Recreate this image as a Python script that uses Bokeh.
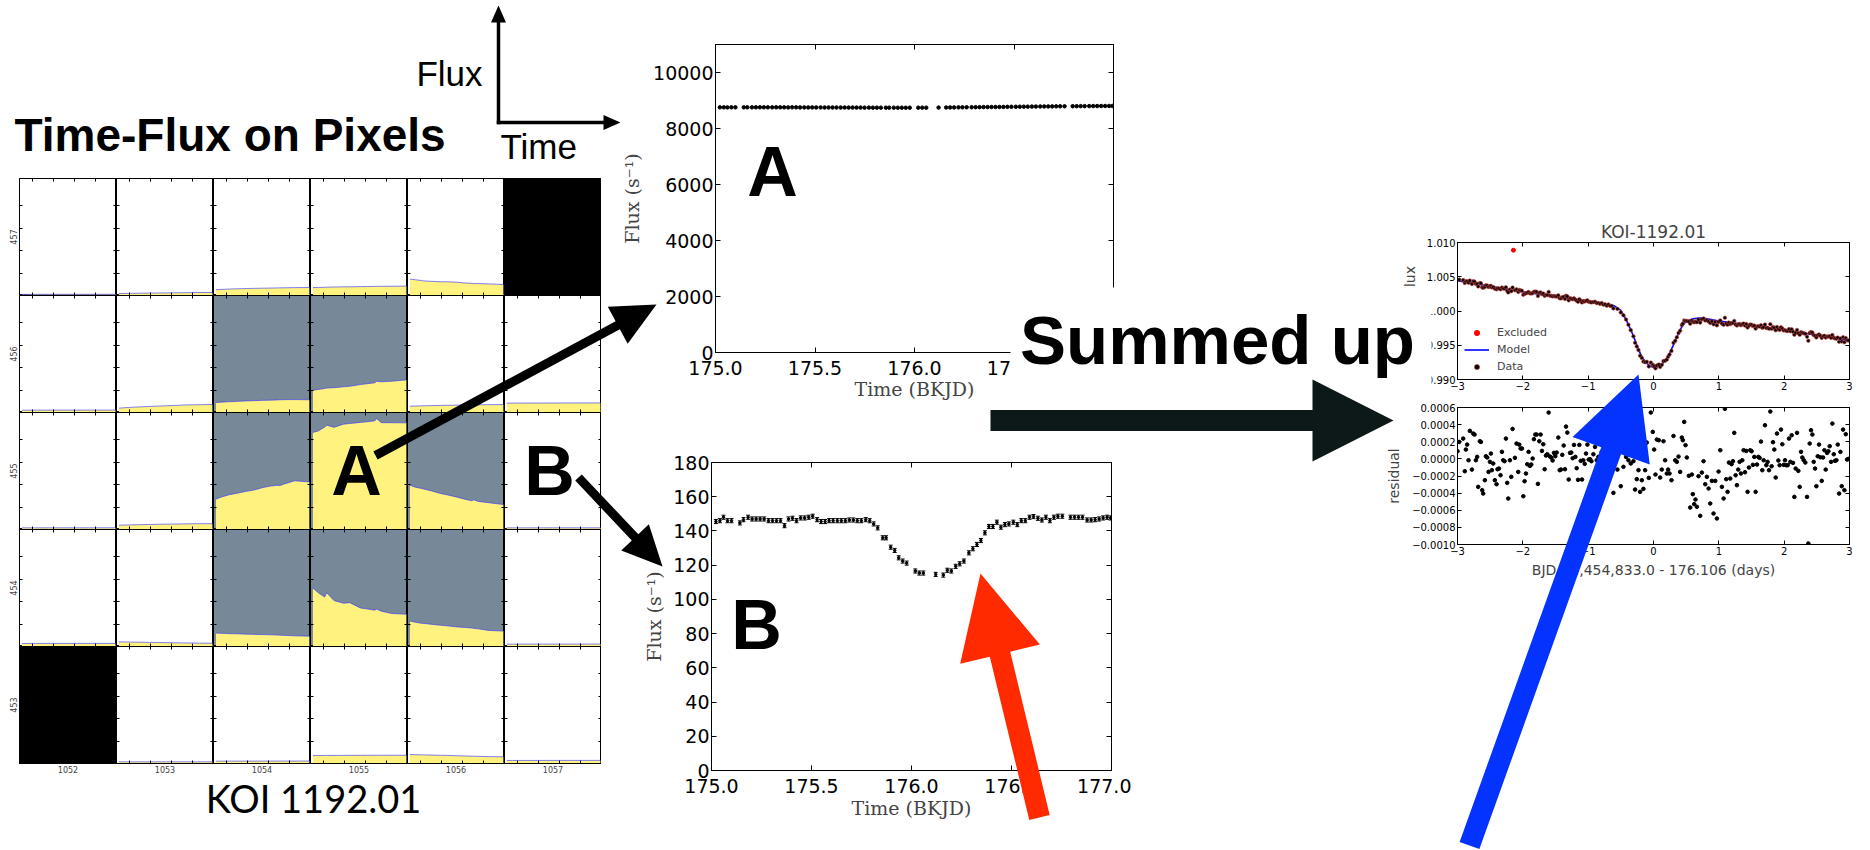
import numpy as np
from bokeh.plotting import figure
from bokeh.models import (GridBox, Range1d, LinearAxis, FixedTicker, ColumnDataSource,
                          Whisker, TeeHead, Legend, LegendItem, CustomJSTickFormatter)
from bokeh.core.properties import value
from bokeh.embed import file_html
from bokeh.resources import INLINE

# ------------------------------------------------------------------ data
# Pixel grid (KOI 1192.01): per-pixel flux time series (e/s) over the quarter (BKJD)
pix_cols = [1052, 1053, 1054, 1055, 1056, 1057]
pix_rows = [457, 456, 455, 454, 453]
pix_time = [169.9, 175.0, 181.0, 183.0, 190.0, 199.0, 205.0, 215.0, 222.0, 229.0, 230.5, 235.0, 245.0, 258.9]
pix_row_457 = [
    [100, 100, 102, 102, 103, 104, 104, 105, 105, 106, 106, 106, 107, 107],
    [180, 185, 192, 195, 203, 213, 220, 231, 239, 247, 250, 255, 263, 272],
    [520, 540, 565, 573, 595, 620, 630, 650, 660, 675, 680, 685, 700, 710],
    [705, 715, 730, 740, 755, 770, 775, 790, 800, 810, 815, 815, 825, 835],
    [1460, 1400, 1330, 1300, 1260, 1220, 1220, 1180, 1110, 1080, 1060, 1060, 1030, 980],
    None,
]
pix_row_456 = [
    [205, 205, 207, 207, 208, 209, 210, 211, 212, 213, 213, 213, 214, 215],
    [385, 420, 460, 470, 500, 540, 560, 600, 625, 650, 660, 670, 690, 710],
    [890, 920, 950, 960, 990, 1030, 1050, 1080, 1100, 1120, 1130, 1140, 1150, 1130],
    [1980, 2050, 2130, 2170, 2210, 2280, 2330, 2480, 2560, 2640, 2780, 2730, 2780, 2900],
    [560, 575, 590, 595, 610, 630, 640, 655, 665, 675, 680, 685, 695, 705],
    [830, 832, 835, 836, 838, 840, 841, 843, 845, 846, 846, 847, 848, 850],
]
pix_row_455 = [
    [146, 146, 147, 147, 148, 148, 148, 149, 149, 150, 150, 150, 151, 151],
    [385, 395, 410, 415, 430, 450, 460, 475, 485, 495, 500, 505, 515, 520],
    [2700, 2880, 3050, 3100, 3220, 3400, 3480, 3740, 3860, 3940, 3900, 4050, 4330, 4230],
    [8630, 8760, 9100, 9270, 9080, 9360, 9420, 9520, 9580, 9660, 9870, 9500, 9490, 9480],
    [3940, 3760, 3650, 3600, 3440, 3200, 3090, 2870, 2700, 2550, 2640, 2500, 2380, 2220],
    [145, 146, 146, 147, 147, 147, 148, 148, 148, 149, 149, 149, 150, 150],
]
pix_row_454 = [
    [270, 270, 271, 271, 272, 272, 273, 273, 274, 274, 274, 275, 275, 276],
    [415, 405, 395, 390, 380, 365, 355, 340, 330, 320, 318, 312, 300, 290],
    [1190, 1170, 1150, 1140, 1130, 1100, 1080, 1060, 1040, 1020, 1010, 990, 950, 920],
    [5200, 4780, 4400, 4780, 4080, 3850, 3900, 3430, 3330, 3230, 3330, 3140, 2930, 2870],
    [2260, 2160, 2060, 2050, 1980, 1890, 1840, 1740, 1700, 1640, 1620, 1570, 1430, 1370],
    [208, 208, 209, 209, 210, 210, 211, 211, 212, 212, 212, 213, 213, 214],
]
pix_row_453 = [
    None,
    [146, 146, 147, 147, 147, 148, 148, 148, 149, 149, 149, 149, 150, 150],
    [208, 209, 210, 210, 211, 212, 212, 213, 214, 215, 215, 215, 216, 217],
    [705, 710, 715, 716, 720, 722, 724, 726, 728, 730, 730, 730, 732, 733],
    [800, 785, 770, 765, 750, 730, 720, 690, 670, 650, 648, 635, 610, 593],
    [270, 270, 271, 271, 272, 272, 273, 273, 274, 274, 274, 275, 275, 276],
]
aperture = [(1054, 456), (1055, 456), (1054, 455), (1055, 455), (1056, 455),
            (1054, 454), (1055, 454), (1056, 454)]

# Light curves of pixel A and pixel B (BKJD, e/s)
lc_time = [175.022, 175.042, 175.060, 175.080, 175.100, 175.142, 175.160, 175.183, 175.203, 175.223,
           175.243, 175.263, 175.285, 175.305, 175.325, 175.345, 175.365, 175.385, 175.405, 175.425,
           175.446, 175.466, 175.486, 175.506, 175.528, 175.548, 175.568, 175.588, 175.608, 175.629,
           175.649, 175.669, 175.689, 175.709, 175.729, 175.749, 175.771, 175.791, 175.811, 175.831,
           175.856, 175.873, 175.896, 175.916, 175.936, 175.956, 175.976, 176.019, 176.039, 176.059,
           176.121, 176.159, 176.179, 176.199, 176.221, 176.241, 176.262, 176.287, 176.307, 176.327,
           176.347, 176.367, 176.387, 176.407, 176.427, 176.447, 176.467, 176.487, 176.509, 176.529,
           176.549, 176.569, 176.590, 176.610, 176.632, 176.652, 176.672, 176.692, 176.712, 176.732,
           176.754, 176.795, 176.815, 176.835, 176.855, 176.878, 176.898, 176.918, 176.938, 176.958,
           176.978, 176.995]
flux_a = [8755, 8756, 8754, 8757, 8755, 8756, 8757, 8755, 8756, 8758,
          8757, 8756, 8755, 8757, 8756, 8755, 8754, 8756, 8755, 8753,
          8754, 8752, 8753, 8751, 8752, 8750, 8751, 8749, 8750, 8748,
          8749, 8747, 8748, 8746, 8747, 8745, 8746, 8744, 8745, 8744,
          8743, 8744, 8743, 8742, 8743, 8742, 8743, 8744, 8745, 8744,
          8748, 8750, 8752, 8753, 8755, 8756, 8758, 8759, 8761, 8762,
          8764, 8765, 8767, 8768, 8770, 8771, 8773, 8775, 8776, 8778,
          8780, 8781, 8783, 8784, 8786, 8787, 8789, 8790, 8791, 8792,
          8793, 8796, 8797, 8798, 8799, 8800, 8801, 8802, 8803, 8804,
          8805, 8806]
flux_b = [145.5, 146.0, 148.0, 146.0, 146.0, 144.7, 146.6, 148.0, 147.0, 147.0,
          147.0, 147.0, 146.0, 146.0, 146.0, 146.0, 143.1, 147.0, 147.4, 146.0,
          147.6, 147.6, 148.0, 148.6, 146.6, 145.5, 145.5, 146.0, 146.0, 146.0,
          146.0, 146.0, 146.4, 146.4, 146.0, 146.0, 146.6, 146.0, 144.1, 141.8,
          136.0, 136.0, 130.5, 128.6, 124.3, 122.4, 121.2, 116.6, 115.4, 115.4,
          114.6, 114.2, 117.0, 116.6, 119.3, 120.8, 122.4, 127.2, 129.6, 132.1,
          134.4, 138.9, 142.6, 142.6, 145.1, 142.2, 143.7, 144.1, 145.1, 143.7,
          146.0, 146.0, 148.0, 148.4, 147.4, 146.4, 148.0, 146.0, 148.0, 148.6,
          148.6, 148.0, 148.0, 148.0, 148.0, 146.4, 146.4, 146.6, 147.0, 147.6,
          148.0, 147.6]
flux_b_err = 1.2

# Summed light curve fit (days from mid-transit)
koi_model_t = [-3.0, -2.5, -2.0, -1.5, -1.0, -0.7, -0.6, -0.5, -0.45, -0.4, -0.35, -0.3,
               -0.25, -0.2, -0.15, -0.1, -0.05, 0.0, 0.05, 0.1, 0.15, 0.2, 0.25, 0.3,
               0.35, 0.4, 0.45, 0.5, 0.6, 0.7, 0.8, 1.0, 1.5, 2.0, 2.5, 3.0]
koi_model_f = [1.00442, 1.00362, 1.00282, 1.00209, 1.00136, 1.00093, 1.00075, 1.00010, 0.99930,
               0.99835, 0.99730, 0.99617, 0.99490, 0.99374, 0.99290, 0.99235, 0.99195, 0.99180,
               0.99182, 0.99204, 0.99245, 0.99301, 0.99390, 0.99495, 0.99605, 0.99714, 0.99795,
               0.99850, 0.99885, 0.99898, 0.99890, 0.99855, 0.99790, 0.99723, 0.99645, 0.99568]
koi_excl_t = [-2.144]
koi_excl_f = [1.00888]
koi_res_t = [-3.000, -2.974, -2.913, -2.888, -2.872, -2.852, -2.831, -2.811, -2.780, -2.760,
             -2.739, -2.719, -2.699, -2.683, -2.658, -2.642, -2.622, -2.607, -2.581, -2.566,
             -2.545, -2.525, -2.504, -2.489, -2.474, -2.453, -2.428, -2.402, -2.387, -2.366,
             -2.341, -2.320, -2.300, -2.280, -2.259, -2.239, -2.223, -2.198, -2.177, -2.157,
             -2.121, -2.096, -2.070, -2.055, -2.034, -2.014, -1.993, -1.973, -1.952, -1.932,
             -1.912, -1.891, -1.871, -1.850, -1.830, -1.809, -1.789, -1.769, -1.748, -1.728,
             -1.707, -1.687, -1.666, -1.646, -1.625, -1.605, -1.585, -1.564, -1.544, -1.523,
             -1.503, -1.482, -1.457, -1.436, -1.416, -1.396, -1.375, -1.355, -1.339, -1.319,
             -1.298, -1.278, -1.258, -1.237, -1.217, -1.196, -1.176, -1.155, -1.135, -1.114,
             -1.094, -1.074, -1.053, -1.033, -1.012, -0.992, -0.971, -0.951, -0.920, -0.895,
             -0.869, -0.844, -0.818, -0.793, -0.767, -0.742, -0.716, -0.690, -0.665, -0.639,
             -0.614, -0.552, -0.501, -0.460, -0.420, -0.384, -0.348, -0.307, -0.282, -0.256,
             -0.230, -0.205, -0.179, -0.154, -0.128, -0.103, -0.072, -0.041, -0.011, 0.010,
             0.030, 0.051, 0.081, 0.102, 0.127, 0.153, 0.178, 0.204, 0.224, 0.245,
             0.275, 0.306, 0.332, 0.357, 0.383, 0.408, 0.434, 0.449, 0.470, 0.490,
             0.510, 0.541, 0.562, 0.587, 0.602, 0.623, 0.643, 0.664, 0.689, 0.715,
             0.740, 0.766, 0.792, 0.817, 0.843, 0.868, 0.894, 0.919, 0.945, 0.970,
             0.996, 1.022, 1.047, 1.073, 1.093, 1.113, 1.134, 1.154, 1.175, 1.195,
             1.216, 1.236, 1.257, 1.277, 1.297, 1.318, 1.338, 1.359, 1.379, 1.400,
             1.420, 1.440, 1.461, 1.481, 1.502, 1.522, 1.543, 1.563, 1.584, 1.604,
             1.624, 1.645, 1.665, 1.686, 1.706, 1.727, 1.747, 1.768, 1.788, 1.808,
             1.829, 1.849, 1.870, 1.890, 1.911, 1.931, 1.951, 1.972, 1.992, 2.013,
             2.033, 2.054, 2.074, 2.095, 2.115, 2.135, 2.156, 2.176, 2.197, 2.217,
             2.238, 2.258, 2.278, 2.299, 2.324, 2.350, 2.370, 2.391, 2.411, 2.432,
             2.452, 2.473, 2.493, 2.514, 2.534, 2.554, 2.575, 2.595, 2.616, 2.636,
             2.657, 2.677, 2.697, 2.718, 2.738, 2.759, 2.779, 2.800, 2.820, 2.841,
             2.861, 2.881, 2.902, 2.922, 2.943, 2.963, 2.984]
koi_res_1e4 = [0.89, 1.98, 2.37, -1.44, 1.09, 1.67, -0.16, 3.27, -1.25, 2.96,
               2.84, -0.16, 0.23, -3.27, 2.06, 1.98, -3.66, -4.05, -2.49, 0.31,
               0.16, -1.52, -0.35, 0.62, -1.32, -0.54, -2.49, -2.96, -1.21, -1.13,
               -1.91, 0.82, -0.16, -0.27, 2.37, -2.80, -4.63, -0.16, -2.10, 3.50,
               0.12, 1.79, -1.52, 1.67, 1.21, 1.21, -4.36, -2.61, -1.71, -0.62,
               0.82, -0.82, -0.66, 0.04, 2.30, 2.84, 2.84, -2.92, 2.06, 2.84,
               0.93, 1.71, -1.21, 0.39, 0.54, 5.41, 0.27, 0.16, -0.19, 0.70,
               0.31, 0.74, 2.49, -1.32, -1.25, 0.47, 1.56, -1.21, 3.77, 3.07,
               -2.41, 0.70, 0.74, 0.08, 1.63, 0.23, -1.09, -2.45, 1.63, -0.23,
               -2.41, -0.16, -0.58, 0.62, 1.67, -0.08, -0.04, -0.27, 0.54, 1.40,
               -0.16, 0.23, -0.54, 0.82, -0.93, -0.16, -1.71, 0.43, -1.13, -0.80,
               -3.97, -1.25, -3.19, -0.93, 0.23, -0.16, -0.54, -0.27, -3.58, -2.37,
               -1.32, -3.85, -2.49, -3.50, -1.32, 1.91, -2.22, 5.41, 3.15, 1.09,
               -1.83, 2.26, 2.18, -2.18, -1.25, 2.06, -0.16, -1.71, -1.25, -1.71,
               -2.49, 2.68, -0.16, -0.35, 0.27, -1.52, 2.49, 2.18, 4.32, 1.60,
               0.16, -1.98, -5.68, -1.83, -4.12, -5.29, -4.75, -5.60, -2.02, -6.65,
               -1.60, -0.27, -2.96, -2.10, -3.46, -5.21, -2.57, -6.38, -2.57, -6.96,
               -1.48, 1.01, -3.27, -4.63, 5.84, -2.37, -3.85, -0.43, -2.30, -0.62,
               -0.27, 3.04, -1.91, -3.07, -1.25, -0.35, -1.71, -0.16, 1.01, -1.56,
               0.93, -3.85, -1.01, 1.01, 0.89, -0.70, 0.23, -3.85, -0.66, 0.23,
               0.12, 2.02, -1.32, -0.16, 3.93, -0.74, -0.35, -1.32, 5.53, -0.86,
               1.95, 1.09, -2.18, 2.96, -0.19, -0.74, 3.42, 1.71, -0.70, -0.16,
               -0.74, -0.74, 2.37, -0.35, 2.76, -0.47, -4.44, -1.13, 3.04, -1.40,
               -3.27, 0.82, 0.16, -0.16, -0.43, -4.44, -9.88, 1.79, 3.35, 2.84,
               -0.35, -1.13, -3.19, 0.31, 1.67, 0.19, -2.57, 0.16, 1.01, -1.25,
               0.70, 0.89, 1.48, -0.35, 4.12, 0.54, -0.23, -0.16, 1.67, -4.05,
               0.82, -3.19, 3.42, -3.66, 2.88, -0.08, 0.00]

# ------------------------------------------------------------------ styles
YELLOW = "#fff27f"
SLATE = "#778899"
TICK_FONT = "DejaVu Sans"
SERIF = "DejaVu Serif"
SANS = "Liberation Sans"


def bare_axis(ticks, tick_in):
    ax = LinearAxis(ticker=FixedTicker(ticks=ticks), major_tick_in=tick_in, major_tick_out=0,
                    minor_tick_line_color=None, axis_line_color="black",
                    major_tick_line_color="black")
    ax.major_label_text_font_size = "0px"
    ax.major_label_text_color = None
    ax.major_label_standoff = 0
    return ax


def label_axis(ticks, tick_in, fs, standoff=2, formatter=None):
    ax = LinearAxis(ticker=FixedTicker(ticks=ticks), major_tick_in=tick_in, major_tick_out=0,
                    minor_tick_line_color=None, axis_line_color="black",
                    major_tick_line_color="black")
    ax.major_label_text_font = TICK_FONT
    ax.major_label_text_font_size = fs
    ax.major_label_text_color = "black"
    ax.major_label_standoff = standoff
    if formatter is not None:
        ax.formatter = formatter
    return ax


def base_fig(w, h, xr, yr, bl, br, bt, bb, **kw):
    p = figure(width=w, height=h, x_range=xr, y_range=yr, x_axis_location=None,
               y_axis_location=None, output_backend="svg", toolbar_location=None,
               min_border_left=bl, min_border_right=br, min_border_top=bt,
               min_border_bottom=bb, **kw)
    p.grid.visible = False
    p.outline_line_color = "black"
    p.background_fill_color = "white"
    p.border_fill_color = "white"
    return p


placements = []  # (figure, x0, y0, x1, y1) in page pixels

# ------------------------------------------------------------------ pixel grid
GRID_X0, GRID_Y0, CELL_W, CELL_H = 19, 178, 97, 117
all_rows = [pix_row_457, pix_row_456, pix_row_455, pix_row_454, pix_row_453]
for ri, row in enumerate(pix_rows):
    for ci, col in enumerate(pix_cols):
        series = all_rows[ri][ci]
        bl = GRID_X0 - 1 if ci == 0 else 0
        bb = 20 if ri == len(pix_rows) - 1 else 0
        p = base_fig(CELL_W + bl, CELL_H + bb, Range1d(167.6, 260.0), Range1d(0, 10400),
                     bl, 0, 0, bb)
        if series is None:
            p.background_fill_color = "black"
        elif (col, row) in aperture:
            p.background_fill_color = SLATE
        for side in ("left", "right", "above", "below"):
            ticks = [2000, 4000, 6000, 8000] if side in ("left", "right") else [180, 200, 220, 240]
            ax = bare_axis(ticks, 3)
            if side == "left" and ci == 0:
                ax.axis_label = str(row)
                ax.axis_label_text_font = TICK_FONT
                ax.axis_label_text_font_size = "8px"
                ax.axis_label_text_font_style = "normal"
                ax.axis_label_standoff = 3
            if side == "below" and bb:
                ax.axis_label = str(col)
                ax.axis_label_text_font = TICK_FONT
                ax.axis_label_text_font_size = "8px"
                ax.axis_label_text_font_style = "normal"
                ax.axis_label_standoff = 2
            p.add_layout(ax, side)
        if series is not None:
            p.varea(x=pix_time, y1=0, y2=series, fill_color=YELLOW)
            p.line(pix_time, series, line_color="#3a3aff", line_width=0.8, line_alpha=0.8)
        x0 = 1 if ci == 0 else GRID_X0 + CELL_W * ci
        x1 = GRID_X0 + CELL_W * (ci + 1)
        y0 = GRID_Y0 + CELL_H * ri
        y1 = GRID_Y0 + CELL_H * (ri + 1) + bb
        placements.append((p, x0, y0, x1, y1))


# ------------------------------------------------------------------ light curves A and B
def lc_axes(p, yticks, ylab_standoff, xlab_standoff):
    xt = [175.0, 175.5, 176.0, 176.5, 177.0]
    ax_b = label_axis(xt, 5, "19px", 8,
                      CustomJSTickFormatter(code="return tick.toFixed(1);"))
    ax_b.axis_label = "Time (BKJD)"
    ax_b.axis_label_text_font = SERIF
    ax_b.axis_label_text_font_size = "19px"
    ax_b.axis_label_text_font_style = "normal"
    ax_b.axis_label_standoff = xlab_standoff
    ax_l = label_axis(yticks, 5, "19px", 2)
    ax_l.axis_label = "Flux (s\u207b\u00b9)"
    ax_l.axis_label_text_font = SERIF
    ax_l.axis_label_text_font_size = "19px"
    ax_l.axis_label_text_font_style = "normal"
    ax_l.axis_label_standoff = ylab_standoff
    p.add_layout(ax_b, "below")
    p.add_layout(ax_l, "left")
    p.add_layout(bare_axis(xt, 5), "above")
    p.add_layout(bare_axis(yticks, 5), "right")


pa = base_fig(508, 368, Range1d(175, 177), Range1d(0, 11000), 100, 10, 10, 50)
lc_axes(pa, [0, 2000, 4000, 6000, 8000, 10000], 7, 0)
pa.scatter(lc_time, flux_a, size=3.5, color="black")
placements.append((pa, 615, 34, 1123, 402))

pb = base_fig(500, 369, Range1d(175, 177), Range1d(0, 180), 80, 20, 10, 50)
lc_axes(pb, [0, 20, 40, 60, 80, 100, 120, 140, 160, 180], 5, 1)
src_b = ColumnDataSource(dict(t=lc_time, f=flux_b,
                              lo=[v - flux_b_err for v in flux_b],
                              hi=[v + flux_b_err for v in flux_b]))
pb.add_layout(Whisker(source=src_b, base="t", lower="lo", upper="hi", dimension="height",
                      line_color="black", line_width=1,
                      lower_head=TeeHead(size=4, line_color="black"),
                      upper_head=TeeHead(size=4, line_color="black")))
pb.scatter("t", "f", source=src_b, size=2.5, color="black")
placements.append((pb, 631, 452, 1131, 821))

# ------------------------------------------------------------------ summed light curve fit
minus_fmt0 = CustomJSTickFormatter(code="return (tick < 0 ? '\u2212' : '') + Math.abs(tick).toFixed(0);")
koi_xt = [-3, -2, -1, 0, 1, 2, 3]

pk = base_fig(467, 187, Range1d(-3, 3), Range1d(0.990, 1.010), 60, 15, 30, 20,
              title="KOI-1192.01")
pk.title.text_font = TICK_FONT
pk.title.text_font_size = "17px"
pk.title.text_font_style = "normal"
pk.title.align = "center"
pk.title.standoff = 1
axk_b = label_axis(koi_xt, 4, "10px", 2, minus_fmt0)
axk_l = label_axis([0.990, 0.995, 1.000, 1.005, 1.010], 4, "10px", 2,
                   CustomJSTickFormatter(code="return tick.toFixed(3);"))
axk_l.axis_label = "Relative Flux"
axk_l.axis_label_text_font = TICK_FONT
axk_l.axis_label_text_font_size = "14px"
axk_l.axis_label_text_font_style = "normal"
axk_l.axis_label_standoff = 6
pk.add_layout(axk_b, "below")
pk.add_layout(axk_l, "left")
pk.add_layout(bare_axis(koi_xt, 4), "above")
pk.add_layout(bare_axis([0.990, 0.995, 1.000, 1.005, 1.010], 4), "right")

res_t = np.array(koi_res_t)
res_v = np.array(koi_res_1e4) * 1e-4
data_f = np.interp(res_t, koi_model_t, koi_model_f) + res_v  # data = model + residual

r_mod = pk.line(koi_model_t, koi_model_f, line_color="#0000ff", line_width=1.6)
r_dat = pk.scatter(res_t, data_f, size=3.6, fill_color="black", line_color="#c84040",
                   line_width=0.6)
r_exc = pk.scatter(koi_excl_t, koi_excl_f, size=4, color="#ff0000")
leg = Legend(items=[LegendItem(label="Excluded", renderers=[r_exc]),
                    LegendItem(label="Model", renderers=[r_mod]),
                    LegendItem(label="Data", renderers=[r_dat])],
             location=(7, 6), border_line_color=None, background_fill_alpha=0,
             label_text_font=TICK_FONT, label_text_font_size="11px",
             glyph_width=25, glyph_height=13, label_height=13, label_standoff=8,
             spacing=4, padding=3, margin=0)
pk.add_layout(leg)
placements.append((pk, 1397, 212, 1864, 399))

pr = base_fig(482, 182, Range1d(-3, 3), Range1d(-0.0010, 0.0006), 75, 15, 5, 40)
res_yt = [-0.0010, -0.0008, -0.0006, -0.0004, -0.0002, 0.0, 0.0002, 0.0004, 0.0006]
axr_b = label_axis(koi_xt, 4, "10px", 2, minus_fmt0)
axr_b.axis_label = "BJD - 2,454,833.0 - 176.106 (days)"
axr_b.axis_label_text_font = TICK_FONT
axr_b.axis_label_text_font_size = "14px"
axr_b.axis_label_text_font_style = "normal"
axr_b.axis_label_standoff = 4
axr_l = label_axis(res_yt, 4, "10px", 2,
                   CustomJSTickFormatter(code="return (tick < -1e-9 ? '\u2212' : '') + Math.abs(tick).toFixed(4);"))
axr_l.axis_label = "residual"
axr_l.axis_label_text_font = TICK_FONT
axr_l.axis_label_text_font_size = "14px"
axr_l.axis_label_text_font_style = "normal"
axr_l.axis_label_standoff = 7
pr.add_layout(axr_b, "below")
pr.add_layout(axr_l, "left")
pr.add_layout(bare_axis(koi_xt, 4), "above")
pr.add_layout(bare_axis(res_yt, 4), "right")
pr.scatter(res_t, res_v, size=3.6, color="black")
placements.append((pr, 1382, 402, 1864, 584))

# ------------------------------------------------------------------ annotation overlay
ov = figure(width=1870, height=850, x_range=Range1d(0, 1870), y_range=Range1d(850, 0),
            x_axis_location=None, y_axis_location=None, output_backend="svg",
            toolbar_location=None, min_border=0, min_border_left=0, min_border_right=0,
            min_border_top=0, min_border_bottom=0)
ov.grid.visible = False
ov.background_fill_alpha = 0
ov.border_fill_alpha = 0
ov.outline_line_color = None


def arrow_poly(tail, tip, w, head_len, head_w):
    (x0, y0), (x1, y1) = tail, tip
    dx, dy = x1 - x0, y1 - y0
    n = (dx * dx + dy * dy) ** 0.5
    ux, uy = dx / n, dy / n
    px, py = -uy, ux
    bx, by = x1 - ux * head_len, y1 - uy * head_len
    xs = [x0 + px * w / 2, bx + px * w / 2, bx + px * head_w / 2, x1,
          bx - px * head_w / 2, bx - px * w / 2, x0 - px * w / 2]
    ys = [y0 + py * w / 2, by + py * w / 2, by + py * head_w / 2, y1,
          by - py * head_w / 2, by - py * w / 2, y0 - py * w / 2]
    return xs, ys


# white panel behind "Summed up"
ov.quad(left=[1010], right=[1431], top=[287], bottom=[400], fill_color="white", line_color=None)

# arrows: (tail, tip, shaft width, head length, head width, colour)
arrows = [
    ((498, 123.75), (498, 5), 3.5, 17, 15, "black"),
    ((496.25, 122), (620, 122), 3.5, 17, 15, "black"),
    ((375, 455), (656, 304), 9, 44, 42, "black"),
    ((578, 477), (662, 566), 9, 40, 38, "black"),
    ((990, 420), (1393, 420), 21, 81, 82, "#0d1919"),
    ((1039, 817), (980, 573), 21, 83, 82, "#ff2a00"),
    ((1469, 845), (1638, 374), 21, 81, 82, "#0433ff"),
]
for tail, tip, w, hl, hw, c in arrows:
    xs, ys = arrow_poly(tail, tip, w, hl, hw)
    ov.patch(xs, ys, fill_color=c, line_color=None)


def txt(x, y, s, size, style="normal", align="center", font=SANS):
    ov.text(x=[x], y=[y], text=[s], text_font=value(font), text_font_size=size,
            text_font_style=style, text_align=align, text_baseline="middle",
            text_color="black")


txt(14, 134, "Time-Flux on Pixels", "46px", "bold", "left")
txt(482, 73, "Flux", "35px", "normal", "right")
txt(500, 146, "Time", "35px", "normal", "left")
txt(313, 797, "KOI 1192.01", "38px", "normal", "center", "Lato")
txt(356, 470, "A", "70px", "bold")
txt(549, 470, "B", "70px", "bold")
txt(772, 171, "A", "70px", "bold")
txt(756, 624, "B", "70px", "bold")
txt(1217, 340, "Summed up", "69px", "bold")

placements.append((ov, 0, 0, 1870, 850))

# ------------------------------------------------------------------ layout on a pixel grid
xe = sorted({v for _, x0, _, x1, _ in placements for v in (x0, x1)})
ye = sorted({v for _, _, y0, _, y1 in placements for v in (y0, y1)})
cols = [f"{b - a}px" for a, b in zip(xe[:-1], xe[1:])]
rows = [f"{b - a}px" for a, b in zip(ye[:-1], ye[1:])]
children = []
for fig, x0, y0, x1, y1 in placements:
    r0, c0 = ye.index(y0), xe.index(x0)
    children.append((fig, r0, c0, ye.index(y1) - r0, xe.index(x1) - c0))

layout = GridBox(children=children, rows=rows, cols=cols, spacing=0)

with open("out.html", "w") as f:
    f.write(file_html(layout, INLINE))
